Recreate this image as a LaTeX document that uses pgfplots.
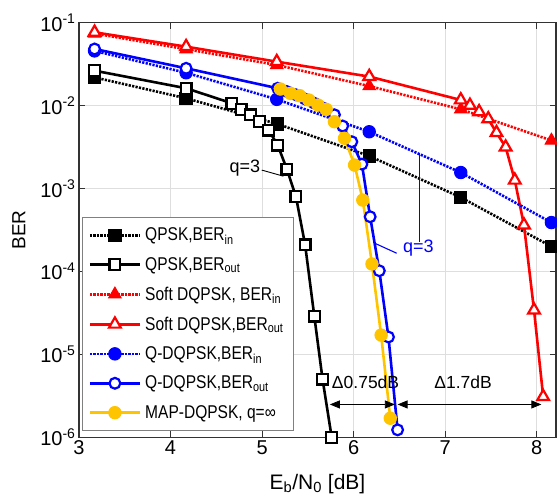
\documentclass[border=0pt]{standalone}
\usepackage{fontspec}
\setmainfont{Liberation Sans}
\newfontfamily\legfont{Liberation Sans}[FakeStretch=0.84]
\usepackage{pgfplots}
\pgfplotsset{compat=1.18}
\usetikzlibrary{arrows.meta}
\definecolor{myyellow}{RGB}{255,196,0}
\definecolor{gridgray}{RGB}{222,222,222}
\begin{document}
\begin{tikzpicture}
\begin{axis}[
  scale only axis, width=477pt, height=414.6pt,
  xmin=3, xmax=8.21, ymin=1e-6, ymax=1e-1, ymode=log, log basis y=10,
  xtick={3,4,5,6,7,8}, minor x tick num=0,
  ytick={1e-6,1e-5,1e-4,1e-3,1e-2,1e-1},
  yticklabels={10\textsuperscript{-6},10\textsuperscript{-5},10\textsuperscript{-4},10\textsuperscript{-3},10\textsuperscript{-2},10\textsuperscript{-1}},
  /pgf/number format/assume math mode=true,
  tick align=inside, major tick length=6pt, minor tick length=3.5pt,
  tick style={line width=0.8pt, black!80},
  ymajorgrids, yminorgrids, xmajorgrids,
  major grid style={gridgray, line width=0.9pt},
  minor grid style={gridgray, line width=0.9pt},
  axis line style={line width=1.3pt, black!80},
  ticklabel style={font=\fontsize{20}{24}\selectfont},
  xlabel={E\textsubscript{b}/N\textsubscript{0} [dB]},
  ylabel={BER},
  xlabel style={at={(axis description cs:0.5,-0.112)}, anchor=center, font=\fontsize{21}{25}\selectfont},
  ylabel style={at={(axis description cs:-0.126,0.5)}, anchor=center, font=\fontsize{19}{23}\selectfont},
  legend style={at={(axis description cs:0.0063,0.0152)}, anchor=south west,
    draw=black!50, line width=1.2pt, fill=white,
    font=\legfont\fontsize{18.5}{22}\selectfont, row sep=0pt,
    inner xsep=6pt, inner ysep=3pt,
    nodes={inner xsep=4pt, inner ysep=7.5pt},
    cells={anchor=west},
    /tikz/every even column/.append style={column sep=2pt}},
  legend image code/.code={\draw[#1, mark repeat=2, mark phase=2] plot coordinates {(0pt,0pt) (25pt,0pt) (50pt,0pt)};},
]
% QPSK in
\addplot[black, line width=2.6pt, dash pattern=on 2.2pt off 1.3pt, mark=square*, mark size=6.2pt, mark options={solid, fill=black, line width=1pt}]
 coordinates {(3.17,0.0219) (4.17,0.01225) (5.17,0.0060) (6.17,0.00247) (7.17,0.000783) (8.16,0.000200)};
\addlegendentry{QPSK,BER\textsubscript{in}}
% QPSK out
\addplot[black, line width=2.6pt, mark=square*, mark size=5.4pt, mark options={solid, fill=white, line width=2.2pt}]
 coordinates {(3.17,0.0264) (4.17,0.0162) (4.67,0.01067) (4.77,0.00902) (4.87,0.00771) (4.97,0.0064) (5.07,0.00508) (5.17,0.00335) (5.27,0.00172) (5.37,0.000796) (5.47,0.000209) (5.57,2.90e-5) (5.66,5.04e-6) (5.76,1.0e-6)};
\addlegendentry{QPSK,BER\textsubscript{out}}
% Soft DQPSK in
\addplot[red, line width=2.6pt, dash pattern=on 2.2pt off 1.3pt, mark=triangle*, mark size=7.2pt, mark options={solid, fill=red, line width=1pt}]
 coordinates {(3.17,0.0741) (4.17,0.0479) (5.16,0.0309) (6.17,0.0172) (7.17,0.00902) (8.16,0.0038)};
\addlegendentry{Soft DQPSK, BER\textsubscript{in}}
% Soft DQPSK out
\addplot[red, line width=2.6pt, mark=triangle*, mark size=6.8pt, mark options={solid, fill=white, line width=2.2pt}]
 coordinates {(3.17,0.0766) (4.17,0.0514) (5.16,0.0339) (6.17,0.0224) (7.17,0.0117) (7.27,0.01007) (7.37,0.00843) (7.47,0.00692) (7.56,0.00472) (7.66,0.00316) (7.76,0.00126) (7.86,0.000363) (7.97,3.42e-5) (8.07,3.09e-6)};
\addlegendentry{Soft DQPSK,BER\textsubscript{out}}
% Q-DQPSK in
\addplot[blue, line width=2.6pt, dash pattern=on 2.2pt off 1.3pt, mark=*, mark size=6.2pt, mark options={solid, fill=blue, line width=1pt}]
 coordinates {(3.17,0.0457) (4.17,0.0249) (5.16,0.0119) (6.17,0.00484) (7.17,0.00156) (8.16,0.000389)};
\addlegendentry{Q-DQPSK,BER\textsubscript{in}}
% Q-DQPSK out
\addplot[blue, line width=2.6pt, mark=*, mark size=5.4pt, mark options={solid, fill=white, line width=2.2pt}]
 coordinates {(3.17,0.0482) (4.17,0.0282) (5.17,0.0162) (5.27,0.0148) (5.37,0.0135) (5.47,0.0120) (5.57,0.0107) (5.67,0.00933) (5.79,0.00776) (5.88,0.00568) (5.98,0.00367) (6.09,0.00197) (6.18,0.000457) (6.28,0.000102) (6.38,1.62e-5) (6.48,1.23e-6)};
\addlegendentry{Q-DQPSK,BER\textsubscript{out}}
% MAP-DQPSK
\addplot[myyellow, line width=2.6pt, mark=*, mark size=6.2pt, mark options={solid, fill=myyellow, line width=1pt}]
 coordinates {(5.20,0.01585) (5.31,0.01406) (5.41,0.01318) (5.51,0.0117) (5.61,0.01016) (5.70,0.00902) (5.79,0.0064) (5.90,0.00404) (6.01,0.00192) (6.10,0.000726) (6.20,0.000123) (6.30,1.71e-5) (6.40,1.70e-6)};
\addlegendentry{MAP-DQPSK, q=∞}
% annotations
\node[font=\fontsize{18}{22}\selectfont] at (axis cs:4.813,1.75e-3) {q=3};
\draw[black, line width=0.9pt] (axis cs:4.996,1.67e-3) -- (axis cs:5.232,1.41e-3);
\node[blue, font=\fontsize{18}{22}\selectfont] at (axis cs:6.707,1.90e-4) {q=3};
\draw[blue, line width=1.1pt] (axis cs:6.716,2.66e-3) -- (axis cs:6.716,2.28e-4);
\draw[blue, line width=1.1pt] (axis cs:6.234,2.18e-4) -- (axis cs:6.47,1.66e-4);
\draw[line width=0.8pt, {Triangle[length=10pt,width=8pt]}-{Triangle[length=10pt,width=8pt]}] (axis cs:5.74,2.49e-6) -- (axis cs:6.45,2.49e-6);
\draw[line width=0.8pt, {Triangle[length=10pt,width=8pt]}-{Triangle[length=10pt,width=8pt]}] (axis cs:6.48,2.49e-6) -- (axis cs:8.05,2.49e-6);
\node[font=\fontsize{17.5}{21}\selectfont] at (axis cs:6.13,4.57e-6) {Δ0.75dB};
\node[font=\fontsize{17.5}{21}\selectfont] at (axis cs:7.195,4.57e-6) {Δ1.7dB};
\end{axis}
\pgfresetboundingbox
\path[use as bounding box] (current axis.south west) ++(-79pt,-58.7pt) rectangle ++(557pt,496pt);
\end{tikzpicture}
\end{document}
